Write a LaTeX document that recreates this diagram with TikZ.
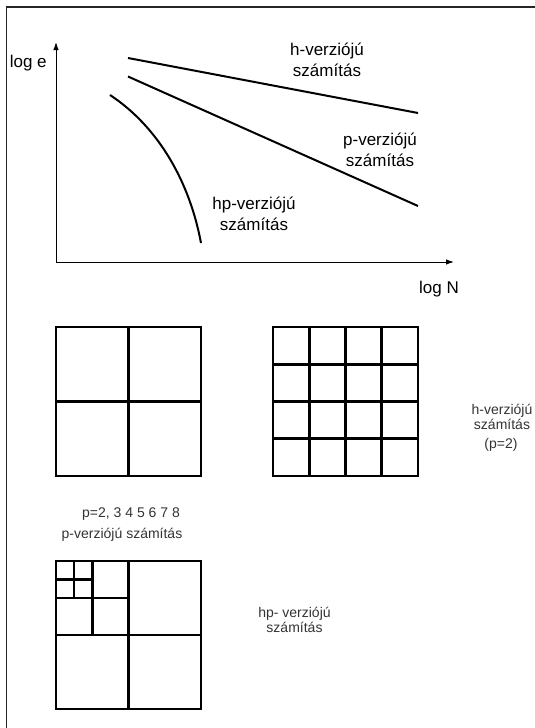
\documentclass[tikz,border=0pt]{standalone}
\usepackage{fontspec}
\setmainfont{Liberation Sans}
\usetikzlibrary{arrows.meta}
\begin{document}
\begin{tikzpicture}[x=1pt,y=-1pt,
  frameline/.style={line width=1.2pt, black!85},
  axisline/.style={line width=1pt, -{Latex[length=8pt,width=5.5pt]}},
  curveline/.style={line width=2pt},
  gridline/.style={line width=2.6pt},
  biglbl/.style={inner sep=0pt, anchor=base, font=\fontsize{17}{20}\selectfont},
  smalllbl/.style={inner sep=0pt, anchor=base, font=\fontsize{14}{16}\selectfont, text=black!80},
]
\useasboundingbox (0,0) rectangle (535,728);
% frame
\coordinate (fbl) at (6.5,728);
\coordinate (ftl) at (6.5,7);
\coordinate (ftr) at (535,7);
\draw[frameline] (fbl) -- (ftl) -- (ftr);

% axes
\coordinate (O) at (56,262);
\coordinate (Ytip) at (56,42);
\coordinate (Xtip) at (454,262);
\draw[axisline] (O) -- (Ytip);
\draw[axisline] (O) -- (Xtip);
\node[biglbl, anchor=base west] (loge) at (9.6,67) {log e};
\node[biglbl] (logN) at (439,293) {log N};

% curves
\coordinate (h1) at (128,58);
\coordinate (h2) at (418,113);
\coordinate (p1) at (128,76.5);
\coordinate (p2) at (418,206);
\coordinate (hp1) at (110,95);
\coordinate (hp2) at (201,243);
\draw[curveline] (h1) -- (h2);
\draw[curveline] (p1) -- (p2);
\draw[curveline] (hp1) .. controls (160,128) and (190,184) .. (hp2);

\node[biglbl] (hlab1) at (327,55) {h-verziójú};
\node[biglbl] (hlab2) at (327,76) {számítás};
\node[biglbl] (plab1) at (380,145) {p-verziójú};
\node[biglbl] (plab2) at (380,166) {számítás};
\node[biglbl] (hplab1) at (254,209) {hp-verziójú};
\node[biglbl] (hplab2) at (254,230) {számítás};

% left grid (p-version)
\draw[gridline] (56,327) rectangle (201,476);
\draw[gridline] (128.5,327) -- (128.5,476) (56,401.5) -- (201,401.5);

% right grid (h-version)
\draw[gridline] (273,327) rectangle (418,476);
\foreach \xx in {309.25,345.5,381.75} \draw[gridline] (\xx,327) -- (\xx,476);
\foreach \yy in {364.25,401.5,438.75} \draw[gridline] (273,\yy) -- (418,\yy);

\node[smalllbl] (rh1) at (502,414) {h-verziójú};
\node[smalllbl] (rh2) at (502,429) {számítás};
\node[smalllbl] (rh3) at (501,448) {(p=2)};

\node[smalllbl] (pp1) at (131,517) {p=2, 3 4 5 6 7 8};
\node[smalllbl] (pp2) at (122,538) {p-verziójú számítás};

% bottom grid (hp-version)
\draw[gridline] (56,561) rectangle (201,709);
\draw[gridline] (128.5,561) -- (128.5,709) (56,635) -- (201,635);
\draw[gridline] (92.25,561) -- (92.25,635) (56,598) -- (128.5,598);
\draw[gridline] (74.1,561) -- (74.1,598) (56,579.5) -- (92.25,579.5);

\node[smalllbl] (hpb1) at (294.5,617) {hp- verziójú};
\node[smalllbl] (hpb2) at (294.5,632) {számítás};
\end{tikzpicture}
\end{document}
